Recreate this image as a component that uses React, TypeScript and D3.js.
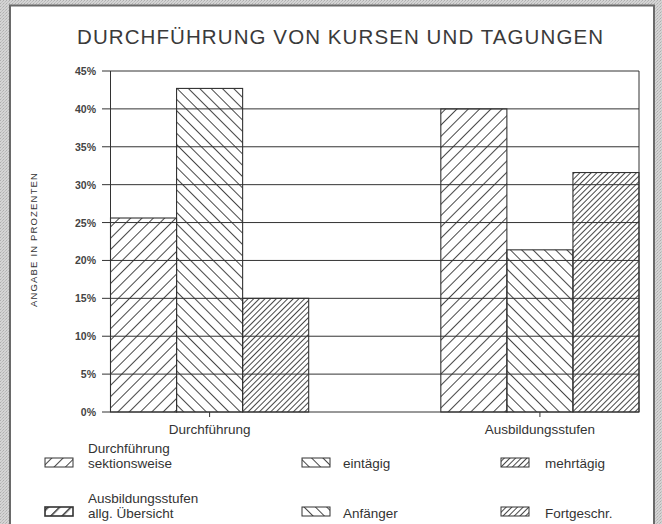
import * as d3 from "d3";
import { useEffect, useRef } from "react";

// values (percent)
const categories = ["Durchführung", "Ausbildungsstufen"];
const durchfuehrungValues = [25.6, 42.7, 15];
const ausbildungValues = [40, 21.4, 31.6];
const yTicks = [0, 5, 10, 15, 20, 25, 30, 35, 40, 45];
const legendRow1 = ["Durchführung\nsektionsweise", "eintägig", "mehrtägig"];
const legendRow2 = ["Ausbildungsstufen\nallg. Übersicht", "Anfänger", "Fortgeschr."];
const patternIds = ["hatchA", "hatchB", "hatchC"];

const W = 662;
const H = 524;
const ink = "#333";
const font = "'Liberation Sans', Arial, Helvetica, sans-serif";

export default function App() {
  const ref = useRef<SVGSVGElement>(null);

  useEffect(() => {
    drawChart();
  }, []);

  function drawChart() {
    const svg = d3.select(ref.current);
    svg.selectAll("*").remove();

    // hatch patterns
    const defs = svg.append("defs");
    const addHatch = (id: string, gap: number, angle: number, sw: number) => {
      const p = defs.append("pattern")
        .attr("id", id)
        .attr("patternUnits", "userSpaceOnUse")
        .attr("width", gap)
        .attr("height", gap)
        .attr("patternTransform", "rotate(" + angle + ")");
      p.append("line")
        .attr("x1", 0.5).attr("y1", 0)
        .attr("x2", 0.5).attr("y2", gap)
        .attr("stroke", ink)
        .attr("stroke-width", sw);
    };
    addHatch("hatchA", 8, 45, 0.9);
    addHatch("hatchB", 8, -45, 0.9);
    addHatch("hatchC", 4, 45, 0.9);
    addHatch("hatchABold", 8, 45, 2);

    // paper texture background
    const bg = defs.append("pattern")
      .attr("id", "paper")
      .attr("patternUnits", "userSpaceOnUse")
      .attr("width", 3).attr("height", 3);
    bg.append("rect").attr("width", 3).attr("height", 3).attr("fill", "#d4d4d4");
    bg.append("rect").attr("x", 0).attr("y", 0).attr("width", 1).attr("height", 1).attr("fill", "#aeaeae");
    bg.append("rect").attr("x", 2).attr("y", 1).attr("width", 1).attr("height", 1).attr("fill", "#bababa");
    bg.append("rect").attr("x", 1).attr("y", 2).attr("width", 1).attr("height", 1).attr("fill", "#c2c2c2");

    svg.append("rect").attr("width", W).attr("height", H).attr("fill", "url(#paper)");
    svg.append("rect")
      .attr("x", 10).attr("y", 5.5)
      .attr("width", 644).attr("height", H)
      .attr("fill", "#fff")
      .attr("stroke", "#6a6a6a")
      .attr("stroke-width", 2);

    // title
    svg.append("text")
      .attr("x", 77).attr("y", 44)
      .attr("textLength", 526)
      .attr("lengthAdjust", "spacing")
      .style("font-family", font)
      .style("font-size", "20.5px")
      .style("fill", "#3a3a3a")
      .text("DURCHFÜHRUNG VON KURSEN UND TAGUNGEN");

    const plotLeft = 110.5;
    const plotRight = 639;
    const y = d3.scaleLinear().domain([0, 45]).range([412, 71]);
    const x0 = d3.scaleBand().domain(categories).range([plotLeft, plotRight]).paddingInner(0.4).paddingOuter(0);
    const x1 = d3.scaleBand().domain(d3.range(3).map(String)).range([0, x0.bandwidth()]).padding(0);

    // bars
    const groups = [durchfuehrungValues, ausbildungValues];
    groups.forEach((vals, gi) => {
      svg.append("g")
        .attr("transform", "translate(" + x0(categories[gi]) + ",0)")
        .selectAll("rect")
        .data(vals)
        .enter()
        .append("rect")
        .attr("x", (d, i) => x1(String(i)) as number)
        .attr("y", d => y(d))
        .attr("width", x1.bandwidth())
        .attr("height", d => y(0) - y(d))
        .attr("fill", (d, i) => "url(#" + patternIds[i] + ")")
        .attr("stroke", ink)
        .attr("stroke-width", 1.1);
    });

    // grid lines over the bars
    svg.append("g").selectAll("line").data(yTicks).enter().append("line")
      .attr("x1", 102).attr("x2", plotRight)
      .attr("y1", d => y(d)).attr("y2", d => y(d))
      .attr("stroke", ink).attr("stroke-width", 1);

    svg.append("line")
      .attr("x1", plotLeft).attr("x2", plotLeft)
      .attr("y1", y(45)).attr("y2", y(0))
      .attr("stroke", ink).attr("stroke-width", 1);
    svg.append("line")
      .attr("x1", plotRight).attr("x2", plotRight)
      .attr("y1", y(45)).attr("y2", y(0))
      .attr("stroke", ink).attr("stroke-width", 1);

    // y tick labels
    svg.append("g").selectAll("text").data(yTicks).enter().append("text")
      .attr("x", 96).attr("y", d => y(d) + 4)
      .attr("text-anchor", "end")
      .style("font-family", font)
      .style("font-size", "10.5px")
      .style("font-weight", "bold")
      .style("fill", "#444")
      .text(d => d + "%");

    // y axis title
    svg.append("text")
      .attr("transform", "translate(36.5,240) rotate(-90)")
      .attr("text-anchor", "middle")
      .attr("textLength", 134)
      .attr("lengthAdjust", "spacing")
      .style("font-family", font)
      .style("font-size", "9.5px")
      .style("fill", "#333")
      .text("ANGABE IN PROZENTEN");

    // category ticks and labels
    categories.forEach(c => {
      const cx = (x0(c) as number) + x0.bandwidth() / 2;
      svg.append("line")
        .attr("x1", cx).attr("x2", cx)
        .attr("y1", y(0)).attr("y2", y(0) + 5)
        .attr("stroke", ink);
      svg.append("text")
        .attr("x", cx).attr("y", 434)
        .attr("text-anchor", "middle")
        .style("font-family", font)
        .style("font-size", "13.5px")
        .style("fill", "#333")
        .text(c);
    });

    // legend
    const colX = [45, 302, 501];
    const textX = [88, 343, 545];
    const rows = [
      { labels: legendRow1, swatchY: 458, base: 468 },
      { labels: legendRow2, swatchY: 507, base: 518 },
    ];
    rows.forEach((row, ri) => {
      row.labels.forEach((label, i) => {
        const fillId = ri === 1 && i === 0 ? "hatchABold" : patternIds[i];
        svg.append("rect")
          .attr("x", colX[i]).attr("y", row.swatchY)
          .attr("width", 28).attr("height", 9)
          .attr("fill", "url(#" + fillId + ")")
          .attr("stroke", ink)
          .attr("stroke-width", ri === 1 && i === 0 ? 1.6 : 1);
        const lines = label.split("\n");
        lines.forEach((ln, li) => {
          svg.append("text")
            .attr("x", textX[i])
            .attr("y", row.base - (lines.length - 1 - li) * 15.5)
            .style("font-family", font)
            .style("font-size", "13.5px")
            .style("fill", "#333")
            .text(ln);
        });
      });
    });
  }

  return (
    <svg
      ref={ref}
      width={W}
      height={H}
      style={{ position: "absolute", left: 0, top: 0 }}
    />
  );
}
